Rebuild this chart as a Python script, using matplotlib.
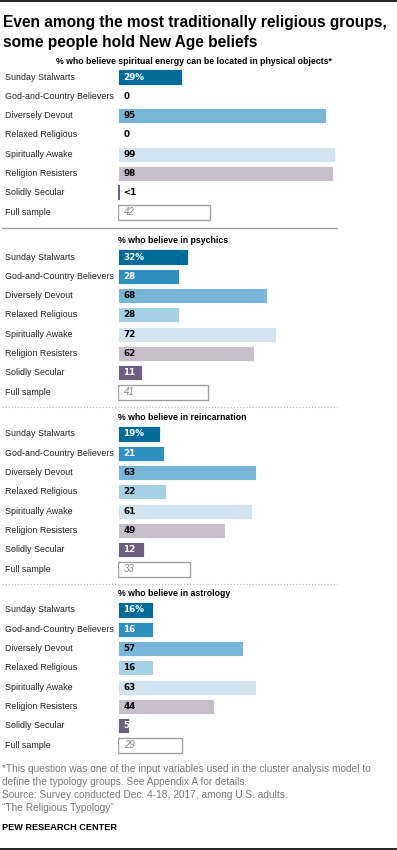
import matplotlib.pyplot as plt
from matplotlib.transforms import blended_transform_factory
from matplotlib.lines import Line2D

# Datos
grupos = ["Sunday Stalwarts", "God-and-Country Believers", "Diversely Devout",
          "Relaxed Religious", "Spiritually Awake", "Religion Resisters",
          "Solidly Secular", "Full sample"]
colores = ["#006a9a", "#2e8fc0", "#78b6d7", "#a6d0e6", "#d2e4f1", "#c6bdcb",
           "#6c5f80", "#ffffff"]
texto_blanco = [True, True, False, False, False, False, True, False]

titulos = ["% who believe spiritual energy can be located in physical objects*",
           "% who believe in psychics",
           "% who believe in reincarnation",
           "% who believe in astrology"]

energia = [29, 0, 95, 0, 99, 98, 0.9, 42]
energia_txt = ["29%", "0", "95", "0", "99", "98", "<1", "42"]
psiquicos = [32, 28, 68, 28, 72, 62, 11, 41]
reencarnacion = [19, 21, 63, 22, 61, 49, 12, 33]
astrologia = [16, 16, 57, 16, 63, 44, 5, 29]

paneles = [
    (energia, energia_txt),
    (psiquicos, None),
    (reencarnacion, None),
    (astrologia, None),
]

W, H = 397, 850
fig = plt.figure(figsize=(W / 100, H / 100), dpi=100)
fuente = "Liberation Sans"

def fy(px):
    return 1 - px / H

# Titulo
fig.text(3 / W, fy(22), "Even among the most traditionally religious groups,",
         fontsize=11.2, fontweight="bold", family=fuente, va="center")
fig.text(3 / W, fy(43), "some people hold New Age beliefs",
         fontsize=11.2, fontweight="bold", family=fuente, va="center")
fig.add_artist(Line2D([0, 1], [fy(1), fy(1)], color="black", lw=1.2))
fig.add_artist(Line2D([0, 1], [fy(848.5), fy(848.5)], color="black", lw=1.2))

fila = 19.3
arriba = [67.35, 247.35, 424.35, 600.35]
sub_y = [61, 241, 418, 594]

for i, (valores, etiquetas) in enumerate(paneles):
    if etiquetas is None:
        etiquetas = [str(v) + ("%" if j == 0 else "") for j, v in enumerate(valores)]
    alto = 8 * fila
    ax = fig.add_axes([118 / W, fy(arriba[i] + alto), 219 / W, alto / H])
    ax.set_xlim(0, 100)
    ax.set_ylim(7.5, -0.5)
    ax.axis("off")
    pos = list(range(len(grupos)))
    bordes = ["white" if v >= 2 else "none" for v in valores[:7]]
    ax.barh(pos[:7], valores[:7], height=0.78, color=colores[:7],
            edgecolor=bordes, linewidth=0.6)
    ax.barh(pos[7], valores[7], height=0.78, color="white",
            edgecolor="#a0a0a0", linewidth=1.0)

    trans = blended_transform_factory(fig.transFigure, ax.transData)
    for j, g in enumerate(grupos):
        ax.text(5 / W, j, g, transform=trans, fontsize=6.4, family=fuente,
                color="#222222", va="center", ha="left")
        if j == 7:
            ax.text(2.6, j, etiquetas[j], fontsize=7, style="italic",
                    color="#888888", va="center", ha="left", family=fuente)
        else:
            col = "white" if (texto_blanco[j] and valores[j] >= 1) else "black"
            ax.text(2.4, j, etiquetas[j], fontsize=6.3, fontweight="bold",
                    color=col, va="center", ha="left", family="DejaVu Sans")

    if i == 0:
        fig.text(194 / W, fy(sub_y[i]), titulos[i], fontsize=6.3,
                 fontweight="bold", family=fuente, ha="center", va="center")
    else:
        fig.text(118 / W, fy(sub_y[i]), titulos[i], fontsize=6.3,
                 fontweight="bold", family=fuente, ha="left", va="center")

# Separadores
fig.add_artist(Line2D([2 / W, 337 / W], [fy(228), fy(228)], color="#999999", lw=0.9))
for y in [407, 584]:
    fig.add_artist(Line2D([2 / W, 337 / W], [fy(y), fy(y)], color="#bbbbbb",
                          lw=0.9, linestyle=(0, (1, 1.5))))

# Notas
notas = ["*This question was one of the input variables used in the cluster analysis model to",
         "define the typology groups. See Appendix A for details.",
         "Source: Survey conducted Dec. 4-18, 2017, among U.S. adults.",
         "\u201cThe Religious Typology\u201d"]
for k, n in enumerate(notas):
    fig.text(2 / W, fy(769 + 13 * k), n, fontsize=7.3, color="#777777",
             family=fuente, va="center")
fig.text(2 / W, fy(827), "PEW RESEARCH CENTER", fontsize=6.6, fontweight="bold",
         family=fuente, va="center")

fig.savefig("out.png", dpi=100)
